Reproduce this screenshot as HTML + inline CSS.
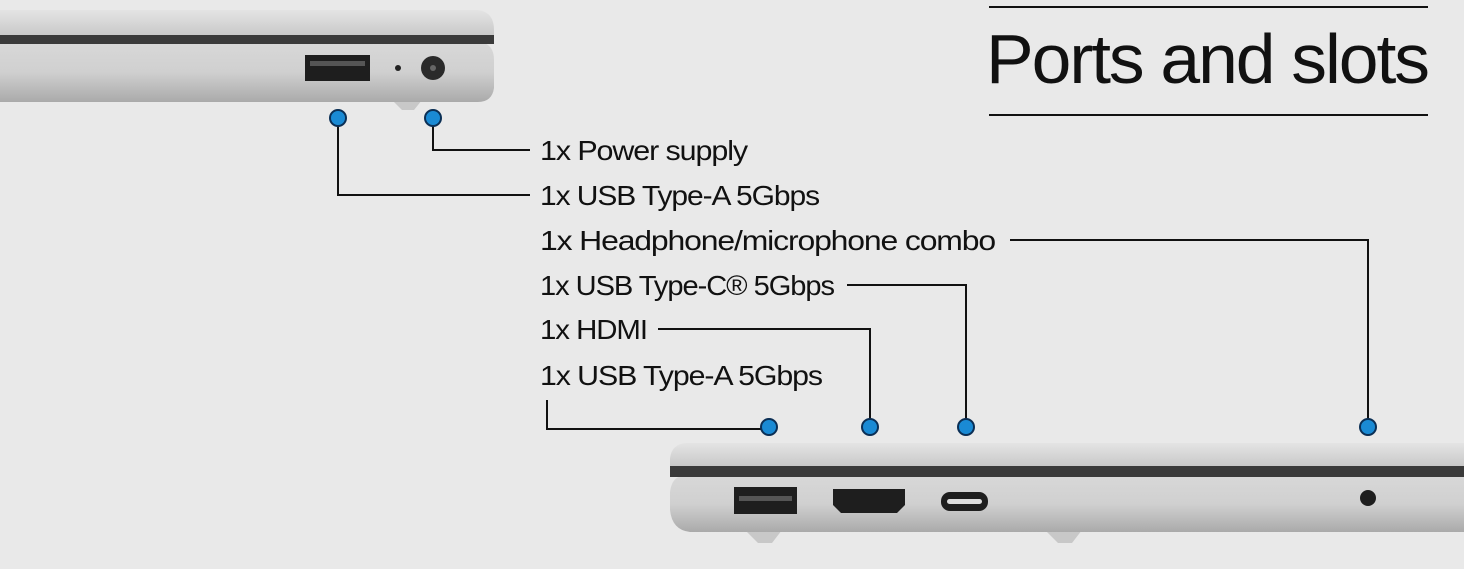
<!DOCTYPE html>
<html><head><style>html,body{margin:0;padding:0;background:#e9e9e9}</style></head>
<body>
<svg width="1464" height="564" xmlns="http://www.w3.org/2000/svg" font-family="Liberation Sans, sans-serif">
<defs>
<linearGradient id="lid" x1="0" y1="0" x2="0" y2="1"><stop offset="0" stop-color="#e4e4e4"/><stop offset="1" stop-color="#c4c4c4"/></linearGradient>
<linearGradient id="base" x1="0" y1="0" x2="0" y2="1"><stop offset="0" stop-color="#d8d8d8"/><stop offset="0.5" stop-color="#d0d0d0"/><stop offset="1" stop-color="#aaa"/></linearGradient>
</defs>
<rect width="1464" height="564" fill="#e9e9e9"/>
<path d="M392 100 L402 110 L414 110 L422 100Z" fill="#c8c8c8"/>
<path d="M0 42 L480 42 Q494 44 494 60 L494 88 Q492 102 478 102 L0 102Z" fill="url(#base)"/>
<path d="M0 10 L478 10 Q494 12 494 30 L494 40 L0 40Z" fill="url(#lid)"/>
<rect x="0" y="35" width="494" height="9" fill="#3a3a3a"/>
<rect x="305" y="55" width="65" height="26" fill="#1e1e1e"/>
<rect x="310" y="61" width="55" height="5" fill="#555"/>
<circle cx="398" cy="68" r="3" fill="#222"/>
<circle cx="433" cy="68" r="12" fill="#2a2a2a"/>
<circle cx="433" cy="68" r="3" fill="#666"/>
<path d="M745 530 L758 543 L772 543 L782 530Z" fill="#c8c8c8"/>
<path d="M1045 530 L1058 543 L1072 543 L1082 530Z" fill="#c8c8c8"/>
<path d="M684 476 L1464 476 L1464 532 L690 532 Q672 530 670 510 L670 492 Q672 476 684 476Z" fill="url(#base)"/>
<path d="M686 443 L1464 443 L1464 470 L670 470 L670 458 Q672 444 686 443Z" fill="url(#lid)"/>
<rect x="670" y="466" width="794" height="11" fill="#3a3a3a"/>
<rect x="734" y="487" width="63" height="27" fill="#1e1e1e"/>
<rect x="739" y="496" width="53" height="5" fill="#555"/>
<path d="M833 489 L905 489 L905 505 L897 513 L841 513 L833 505Z" fill="#1e1e1e"/>
<rect x="941" y="492" width="47" height="19" rx="9" fill="#1e1e1e"/>
<rect x="947" y="499" width="35" height="5" rx="2.5" fill="#ddd"/>
<circle cx="1368" cy="498" r="8" fill="#1e1e1e"/>
<line x1="989" y1="7" x2="1428" y2="7" stroke="#111" stroke-width="2"/>
<line x1="989" y1="115" x2="1428" y2="115" stroke="#111" stroke-width="2"/>
<text x="986" y="83" font-size="70" fill="#111" textLength="442" lengthAdjust="spacingAndGlyphs" letter-spacing="-2">Ports and slots</text>
<g fill="none" stroke="#111" stroke-width="2">
<polyline points="433,118 433,150 530,150"/>
<polyline points="338,118 338,195 530,195"/>
<polyline points="1010,240 1368,240 1368,427"/>
<polyline points="847,285 966,285 966,427"/>
<polyline points="658,329 870,329 870,427"/>
<polyline points="547,400 547,429 769,429"/>
</g>
<g fill="#1a8ad4" stroke="#0b2f55" stroke-width="2">
<circle cx="338" cy="118" r="8"/><circle cx="433" cy="118" r="8"/>
<circle cx="769" cy="427" r="8"/><circle cx="870" cy="427" r="8"/>
<circle cx="966" cy="427" r="8"/><circle cx="1368" cy="427" r="8"/>
</g>
<g font-size="28" fill="#111" letter-spacing="-1">
<text x="540" y="160" textLength="207" lengthAdjust="spacingAndGlyphs">1x Power supply</text>
<text x="540" y="205" textLength="279" lengthAdjust="spacingAndGlyphs">1x USB Type-A 5Gbps</text>
<text x="540" y="250" textLength="455" lengthAdjust="spacingAndGlyphs">1x Headphone/microphone combo</text>
<text x="540" y="295" textLength="294" lengthAdjust="spacingAndGlyphs">1x USB Type-C® 5Gbps</text>
<text x="540" y="339" textLength="107" lengthAdjust="spacingAndGlyphs">1x HDMI</text>
<text x="540" y="385" textLength="282" lengthAdjust="spacingAndGlyphs">1x USB Type-A 5Gbps</text>
</g>
</svg>
</body></html>
